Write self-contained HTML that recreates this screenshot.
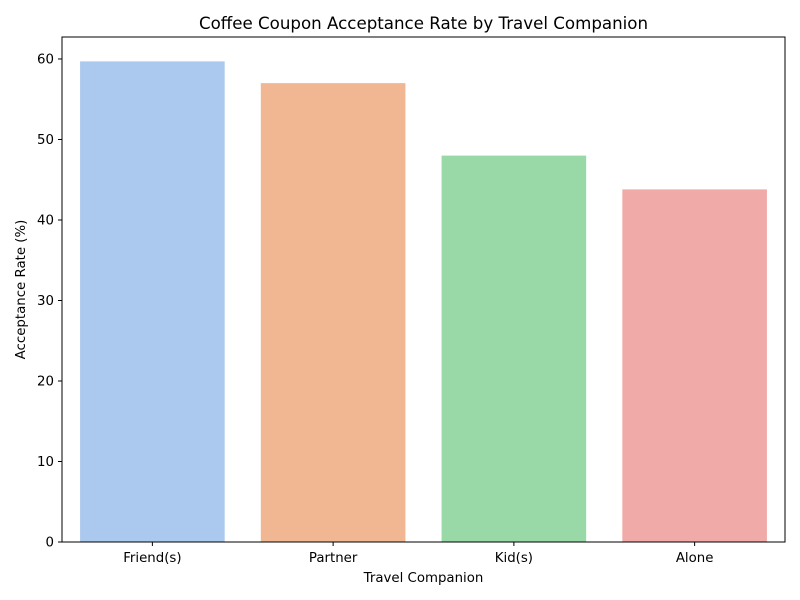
<!DOCTYPE html>
<html><head><meta charset="utf-8"><style>
body{margin:0;background:#fff;}
svg{display:block;font-family:"DejaVu Sans","Liberation Sans",sans-serif;}
</style></head><body>
<svg id="chart" width="800" height="600" xmlns="http://www.w3.org/2000/svg">
<rect width="800" height="600" fill="#fff"/>
<text x="423.5" y="29" text-anchor="middle" font-size="16.67" fill="#000">Coffee Coupon Acceptance Rate by Travel Companion</text>
<g id="bars"></g>
<g id="yticks"></g>
<g id="xticks"></g>
<rect x="62" y="37" width="723" height="505" fill="none" stroke="#000" stroke-width="1"/>
<text x="423.5" y="582" text-anchor="middle" font-size="13.33">Travel Companion</text>
<text transform="translate(25,289.5) rotate(-90)" text-anchor="middle" font-size="13.33">Acceptance Rate (%)</text>
</svg>
<script>
const categories=["Friend(s)","Partner","Kid(s)","Alone"];
const values=[59.7,57.0,48.0,43.8];
const yTicks=[0,10,20,30,40,50,60];
const colors=["#abc9ee","#f0b792","#98d9a7","#f0aaa8"];
const L=62,R=785,T=37,B=542,yMax=62.73;
const NS="http://www.w3.org/2000/svg";
const y=v=>B-(v/yMax)*(B-T);
const band=(R-L)/categories.length;
const xc=i=>L+band*(i+0.5);
const bw=band*0.8;
const bars=document.getElementById('bars'),yt=document.getElementById('yticks'),xt=document.getElementById('xticks');
values.forEach((v,i)=>{
 const r=document.createElementNS(NS,'rect');
 r.setAttribute('x',xc(i)-bw/2);r.setAttribute('y',y(v));
 r.setAttribute('width',bw);r.setAttribute('height',B-y(v));
 r.setAttribute('fill',colors[i]);
 
 
 bars.appendChild(r);
});
yTicks.forEach(t=>{
 const l=document.createElementNS(NS,'line');
 l.setAttribute('x1',L-4);l.setAttribute('x2',L);l.setAttribute('y1',y(t));l.setAttribute('y2',y(t));l.setAttribute('stroke','#000');
 
 
 yt.appendChild(l);
 const s=document.createElementNS(NS,'text');
 s.setAttribute('x',L-8);s.setAttribute('y',y(t)+4.5);s.setAttribute('text-anchor','end');s.setAttribute('font-size','13.33');
 s.textContent=t;
 
 
 yt.appendChild(s);
});
categories.forEach((c,i)=>{
 const l=document.createElementNS(NS,'line');
 l.setAttribute('x1',xc(i));l.setAttribute('x2',xc(i));l.setAttribute('y1',B);l.setAttribute('y2',B+4);l.setAttribute('stroke','#000');
 
 
 xt.appendChild(l);
 const s=document.createElementNS(NS,'text');
 s.setAttribute('x',xc(i));s.setAttribute('y',B+20);s.setAttribute('text-anchor','middle');s.setAttribute('font-size','13.33');
 s.textContent=c;
 
 
 xt.appendChild(s);
});
</script>
</body></html>
